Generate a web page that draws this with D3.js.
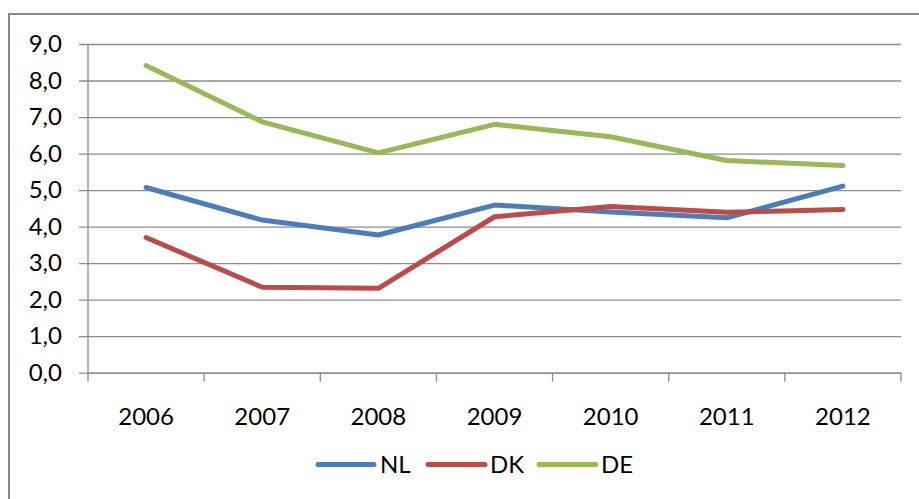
<!DOCTYPE html>
<html>
<head>
<meta charset="utf-8">
<script src="https://cdn.jsdelivr.net/npm/d3@7/dist/d3.min.js"></script>
<style>
  html, body { margin: 0; padding: 0; background: #fff; }
  svg { display: block; }
  text { font-family: Lato, "Open Sans", "Liberation Sans", sans-serif; fill: #000; }
</style>
</head>
<body>
<svg id="chart" width="919" height="499"></svg>
<script>
const years = ["2006", "2007", "2008", "2009", "2010", "2011", "2012"];
const seriesNames = ["NL", "DK", "DE"];
const nlValues = [5.07, 4.18, 3.77, 4.59, 4.40, 4.24, 5.11];
const dkValues = [3.70, 2.34, 2.31, 4.27, 4.55, 4.39, 4.47];
const deValues = [8.41, 6.87, 6.02, 6.80, 6.46, 5.81, 5.67];
const yTicks = [0, 1, 2, 3, 4, 5, 6, 7, 8, 9];
const colors = ["#4a7ebb", "#be4b48", "#98b954"];

const series = [
  { name: seriesNames[0], values: nlValues, color: colors[0] },
  { name: seriesNames[1], values: dkValues, color: colors[1] },
  { name: seriesNames[2], values: deValues, color: colors[2] }
];

const svg = d3.select("#chart");
const W = 919, H = 499;
const plot = { left: 88, right: 901, top: 44, bottom: 372.7 };
const FS = 24;

// outer frame (extends beyond the picture on right/bottom)
svg.append("rect")
  .attr("x", 9).attr("y", 14)
  .attr("width", W).attr("height", H)
  .attr("fill", "none").attr("stroke", "#888").attr("stroke-width", 2);

const x = d3.scaleBand().domain(years).range([plot.left, plot.right]).padding(0);
const y = d3.scaleLinear().domain([0, 9]).range([plot.bottom, plot.top]);

// gridlines + y axis
const yAxis = d3.axisLeft(y).tickValues(yTicks)
  .tickSize(-(plot.right - plot.left))
  .tickPadding(17)
  .tickFormat(d => d3.format(".1f")(d).replace(".", ","));
const gy = svg.append("g").attr("transform", `translate(${plot.left},0)`).call(yAxis);
gy.select(".domain").remove();
gy.selectAll(".tick line").attr("stroke", "#8c8c8c").attr("stroke-width", 1.3).attr("x2", plot.right - plot.left).attr("x1", -9);
gy.selectAll(".tick text").attr("font-size", FS).attr("fill", "#000").attr("x", -26)
  .attr("font-family", "Lato, 'Open Sans', sans-serif");

// y axis vertical line
svg.append("line")
  .attr("x1", plot.left).attr("x2", plot.left)
  .attr("y1", plot.top).attr("y2", plot.bottom)
  .attr("stroke", "#8c8c8c").attr("stroke-width", 1.3);

// x axis
const xAxis = d3.axisBottom(x).tickSize(0).tickPadding(35);
const gx = svg.append("g").attr("transform", `translate(0,${plot.bottom})`).call(xAxis);
gx.select(".domain").attr("stroke", "#8c8c8c").attr("stroke-width", 1.3);
gx.selectAll(".tick text").attr("font-size", FS).attr("fill", "#000")
  .attr("font-family", "Lato, 'Open Sans', sans-serif");
// category boundary ticks
const bounds = years.map(yv => x(yv)).concat([x(years[years.length - 1]) + x.bandwidth()]);
gx.selectAll(".bound").data(bounds).enter().append("line")
  .attr("x1", d => d).attr("x2", d => d)
  .attr("y1", 0).attr("y2", 9)
  .attr("stroke", "#8c8c8c").attr("stroke-width", 1.3);

// lines
const line = d3.line()
  .x((d, i) => x(years[i]) + x.bandwidth() / 2)
  .y(d => y(d));

svg.selectAll(".series").data(series).enter().append("path")
  .attr("d", d => line(d.values))
  .attr("fill", "none")
  .attr("stroke", d => d.color)
  .attr("stroke-width", 5)
  .attr("stroke-linejoin", "round")
  .attr("stroke-linecap", "round");

// legend
const legendItems = [
  { x1: 318, x2: 374, tx: 380 },
  { x1: 428, x2: 485, tx: 490 },
  { x1: 539, x2: 596, tx: 601 }
];
const ly = 464.5;
const lg = svg.append("g");
series.forEach((s, i) => {
  const it = legendItems[i];
  lg.append("line")
    .attr("x1", it.x1).attr("x2", it.x2)
    .attr("y1", ly).attr("y2", ly)
    .attr("stroke", s.color).attr("stroke-width", 5).attr("stroke-linecap", "round");
  lg.append("text")
    .attr("x", it.tx).attr("y", ly).attr("dy", "0.35em")
    .attr("font-size", FS).text(s.name);
});
</script>
</body>
</html>
